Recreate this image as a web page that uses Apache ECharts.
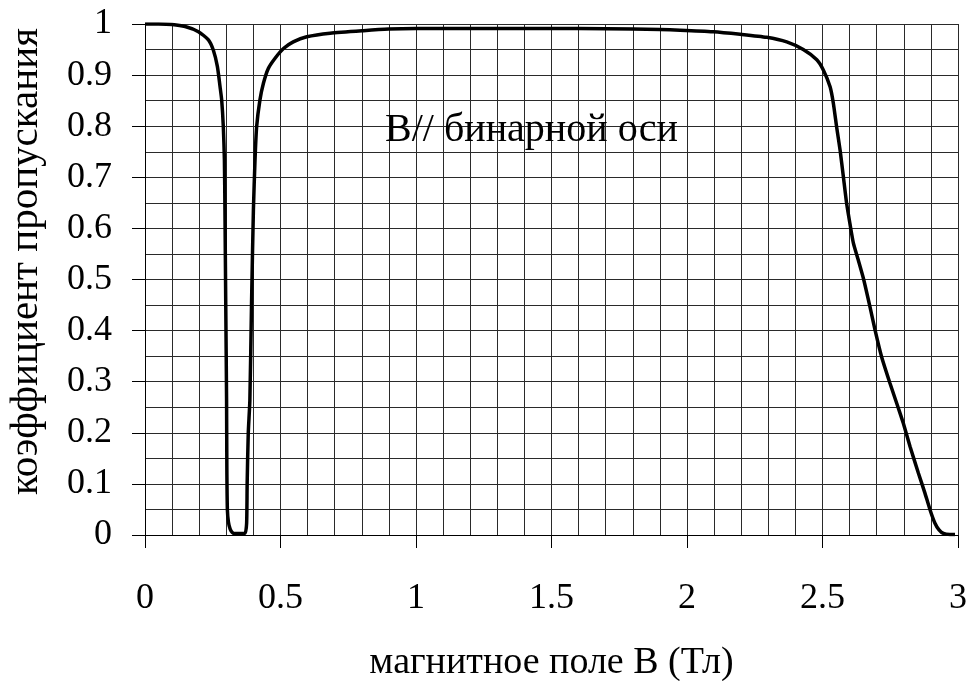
<!DOCTYPE html>
<html>
<head>
<meta charset="utf-8">
<script src="https://cdn.jsdelivr.net/npm/echarts@6/dist/echarts.min.js"></script>
<style>
html,body{margin:0;padding:0;background:#fff;}
#chart{width:966px;height:681px;}
</style>
</head>
<body>
<div id="chart"></div>
<script>
// magnetic field B (T)
const fieldB = [0, 0.05, 0.10, 0.148, 0.197, 0.234, 0.252, 0.267, 0.277, 0.283, 0.289, 0.293, 0.295, 0.298, 0.301, 0.302, 0.304, 0.308, 0.314, 0.322, 0.332, 0.35, 0.369, 0.375, 0.377, 0.381, 0.387, 0.393, 0.400, 0.406, 0.412, 0.424, 0.437, 0.455, 0.480, 0.511, 0.547, 0.597, 0.683, 0.806, 0.9, 1.0, 1.2, 1.4, 1.6, 1.8, 1.9, 1.974, 2.097, 2.196, 2.294, 2.368, 2.429, 2.479, 2.503, 2.528, 2.540, 2.552, 2.565, 2.577, 2.589, 2.601, 2.614, 2.632, 2.651, 2.675, 2.694, 2.718, 2.749, 2.780, 2.798, 2.823, 2.854, 2.878, 2.897, 2.915, 2.930, 2.946, 2.97, 2.989];
// transmission coefficient
const transmission = [1.0, 1.0, 0.999, 0.995, 0.985, 0.969, 0.949, 0.917, 0.877, 0.851, 0.799, 0.734, 0.636, 0.45, 0.264, 0.134, 0.049, 0.025, 0.012, 0.005, 0.003, 0.003, 0.003, 0.023, 0.101, 0.199, 0.264, 0.45, 0.636, 0.734, 0.799, 0.851, 0.884, 0.913, 0.933, 0.952, 0.965, 0.975, 0.982, 0.987, 0.990, 0.991, 0.991, 0.991, 0.991, 0.990, 0.989, 0.988, 0.985, 0.980, 0.974, 0.965, 0.950, 0.930, 0.910, 0.877, 0.845, 0.799, 0.753, 0.701, 0.649, 0.610, 0.571, 0.538, 0.502, 0.447, 0.401, 0.349, 0.297, 0.248, 0.219, 0.173, 0.121, 0.082, 0.049, 0.023, 0.010, 0.003, 0.001, 0.001];

const xTitle = 'магнитное поле B (Тл)';
const yTitle = 'коэффициент пропускания';
const annotation = 'B// бинарной оси';

const FONT = '"Liberation Serif", "Times New Roman", serif';
const chart = echarts.init(document.getElementById('chart'), null, {renderer: 'canvas'});
const points = fieldB.map((b, i) => [b, transmission[i]]);

chart.setOption({
  backgroundColor: '#ffffff',
  animation: false,
  grid: {left: 145, right: 8, top: 24, bottom: 146, containLabel: false, outerBoundsMode: 'none'},
  xAxis: {
    type: 'value', min: 0, max: 3, interval: 0.5,
    name: xTitle, nameLocation: 'middle', nameGap: 109,
    nameTextStyle: {fontFamily: FONT, fontSize: 38, color: '#000'},
    axisLine: {show: true, onZero: false, lineStyle: {color: '#000', width: 1}},
    axisTick: {show: true, inside: false, length: 13, lineStyle: {color: '#000', width: 1}},
    minorTick: {show: false, splitNumber: 5},
    splitLine: {show: true, lineStyle: {color: '#2a2a2a', width: 1}},
    minorSplitLine: {show: true, lineStyle: {color: '#2a2a2a', width: 1}},
    axisLabel: {fontFamily: FONT, fontSize: 36, color: '#000', margin: 46,
      formatter: v => String(v)}
  },
  yAxis: {
    type: 'value', min: 0, max: 1, interval: 0.1,
    name: yTitle, nameLocation: 'middle', nameGap: 98, nameRotate: 90,
    nameTextStyle: {fontFamily: FONT, fontSize: 41, color: '#000', padding: [0, 0, 0, 36]},
    axisLine: {show: true, onZero: false, lineStyle: {color: '#000', width: 1}},
    axisTick: {show: true, inside: false, length: 13, lineStyle: {color: '#000', width: 1}},
    minorTick: {show: false, splitNumber: 2},
    splitLine: {show: true, lineStyle: {color: '#2a2a2a', width: 1}},
    minorSplitLine: {show: true, lineStyle: {color: '#2a2a2a', width: 1}},
    axisLabel: {fontFamily: FONT, fontSize: 36, color: '#000', margin: 33,
      formatter: v => String(Math.round(v * 10) / 10)}
  },
  series: [{
    type: 'line',
    data: points,
    showSymbol: false,
    smooth: 0.2,
    lineStyle: {color: '#000', width: 3.5},
    z: 5
  }],
  graphic: [{
    type: 'text',
    left: 385, top: 110,
    style: {text: annotation, font: '40px ' + FONT, fill: '#000'},
    z: 10
  }]
});
</script>
</body>
</html>
